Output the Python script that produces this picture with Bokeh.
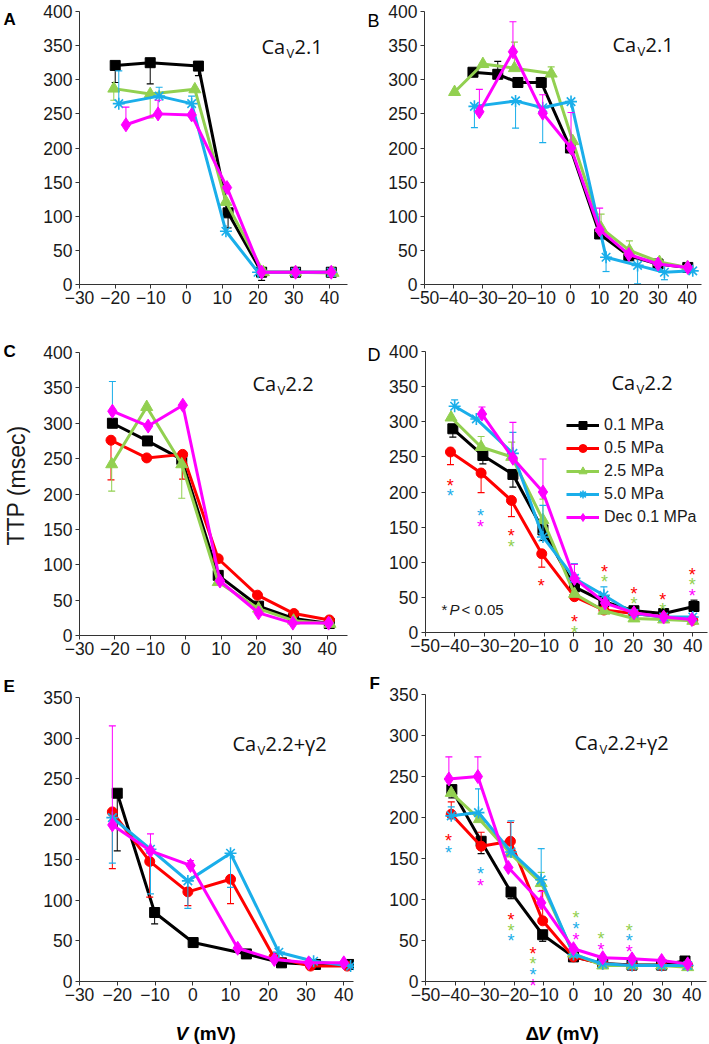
from bokeh.plotting import figure
from bokeh.layouts import column, row
from bokeh.models import Label, FixedTicker, Legend, LegendItem, ColumnDataSource, Range1d
from bokeh.core.properties import value
from bokeh.embed import file_html
from bokeh.resources import INLINE

# ------------------------------------------------------------------ data
legend_labels = ["0.1 MPa", "0.5 MPa", "2.5 MPa", "5.0 MPa", "Dec 0.1 MPa"]
yticks_400 = [0, 50, 100, 150, 200, 250, 300, 350, 400]
yticks_350 = [0, 50, 100, 150, 200, 250, 300, 350]
xticks_v = [-30, -20, -10, 0, 10, 20, 30, 40]
xlabels_v = ["\u221230", "\u221220", "\u221210", "0", "10", "20", "30", "40"]
xticks_dv = [-50, -40, -30, -20, -10, 0, 10, 20, 30, 40]
xlabels_dv = ["\u221250", "\u221240", "\u221230", "\u221220", "\u221210", "0", "10", "20", "30", "40"]

# Panel A  (CaV2.1, V)
A_black_x = [-20, -10.2, 3.3, 11.6, 21, 30.5, 40.5]
A_black_y = [321, 325, 320, 105, 18, 18, 18]
A_black_err = [-25, -31, -14, -22, -12, 0, 0]
A_green_x = [-20.4, -10.2, 2.3, 11, 21.5, 30.5, 41]
A_green_y = [287, 279, 286, 121, 18, 18, 17]
A_green_err = [-17, -35, 0, 0, 0, 0, 0]
A_blue_x = [-19, -7.7, 1.4, 11, 20, 30.5, 40.5]
A_blue_y = [265, 276, 265, 78, 18, 18, 18]
A_blue_err = [48, 13, 11, 0, 0, 0, 0]
A_magenta_x = [-17, -8, 1.4, 11.3, 21, 30.5, 40.5]
A_magenta_y = [234, 250, 248.5, 142, 18, 18, 18]
A_magenta_err = [26, 20, 0, 0, 0, 0, 0]

# Panel B  (CaV2.1, dV)
B_black_x = [-33.4, -24.9, -18, -10, 0, 10, 20, 30, 40.2]
B_black_y = [311, 308, 296, 296, 200, 74, 42, 30, 25]
B_black_err = [0, 19, 0, 0, 0, 0, 0, 0, 0]
B_green_x = [-39.7, -30, -19.2, -6.6, 0.8, 10.5, 20.2, 30.5, 40]
B_green_y = [282, 323, 317, 309, 210, 83, 50, 33, 25]
B_green_err = [0, 0, 38, 10, 0, 20, 14, 0, 0]
B_blue_x = [-32.9, -18.8, -9.5, 0.2, 12.2, 23, 32.2, 41.9]
B_blue_y = [261, 269, 259, 268, 40, 28, 18, 20]
B_blue_err = [-31, -40, -51, 0, -21, -27, -11, 0]
B_magenta_x = [-31.2, -19.7, -9.5, 0.2, 10, 20, 30, 40.2]
B_magenta_y = [253, 341, 251, 200, 80, 44, 30, 25]
B_magenta_err = [33, 44, 27, 52, 32, 0, 0, 0]

# Panel C  (CaV2.2, V)
C_black_x = [-20.7, -10.8, -1.1, 9.2, 20.6, 30.5, 40.6]
C_black_y = [300, 275, 249, 85, 41.5, 24, 17]
C_black_err = [0, 0, 0, 0, 0, 0, 0]
C_red_x = [-21.1, -11, -0.85, 9.2, 20.3, 30.6, 40.6]
C_red_y = [276, 251, 256, 108.5, 57, 31, 22]
C_red_err = [-56, 0, -35, 0, 0, 0, 0]
C_green_x = [-20.9, -11, -1.1, 9.2, 20.6, 30.5, 40.8]
C_green_y = [242, 323, 242, 75.5, 38, 21, 16.5]
C_green_err = [-38, 0, -48, 0, 0, 0, 0]
C_blue_x = [-20.7]
C_blue_y = [300]
C_blue_err = [59]
C_magenta_x = [-20.7, -10.6, -0.8, 9.7, 20.6, 30.3, 40.4]
C_magenta_y = [317, 296, 325.5, 77, 32, 17.5, 17.5]
C_magenta_err = [0, 0, 0, 0, 0, 0, 0]

# Panel D  (CaV2.2, dV)
D_black_x = [-40.7, -30.6, -20.5, -10.4, 0.2, 10.1, 20.2, 30.2, 40.4]
D_black_y = [290, 252, 225, 146, 65, 44, 31, 27, 37]
D_black_err = [-12, -12, -18, -15, 0, 0, 0, 0, 9]
D_red_x = [-41.5, -31.2, -21, -10.8, 0.2, 10.1, 20.2, 30.2, 40]
D_red_y = [257, 227, 188, 112, 51, 32, 27, 22, 17.5]
D_red_err = [-18, -28, -23, -19, 0, 0, 0, 0, 0]
D_green_x = [-41.3, -31.2, -20.9, -10.4, 0.2, 10.1, 20.2, 30.2, 40]
D_green_y = [306, 264, 250, 160, 55, 31, 20, 18.5, 16.6]
D_green_err = [0, 15, 21, 30, 0, 0, 0, 0, 0]
D_blue_x = [-40.1, -32.8, -20.5, -10.4, 0.2, 10.1, 20.2, 30.2, 40]
D_blue_y = [322, 304, 255, 136, 77, 53, 27, 22, 22]
D_blue_err = [9, 0, 30, 45, 21, 12, 0, 0, 0]
D_magenta_x = [-30.9, -20.5, -10.4, 0.2, 10.5, 20.2, 30.2, 39.7]
D_magenta_y = [311, 248, 200, 77, 42, 28, 22, 18.5]
D_magenta_err = [10, 51, 47, 20, 0, 0, 0, 0]
D_star_x = [-41.6, -21.1, -11, 0.2, 10.3, 20.2, 29.9, 39.8,
            -21.1, 0.2, 10.3, 20.2, 29.9, 39.8,
            -41.6, -31.4, -31.4, 39.8]
D_star_y = [223, 151, 81, 29, 101, 69, 61, 96,
            136, 14, 86, 55, 46, 82,
            208, 180, 165, 66]
D_star_s = ["red"] * 8 + ["green"] * 6 + ["blue"] * 2 + ["magenta"] * 2

# Panel E  (CaV2.2+g2, V)
E_black_x = [-20, -10.1, 0.1, 14.2, 23.5, 32.5, 41.3]
E_black_y = [232, 85, 48, 34, 23, 21, 21]
E_black_err = [-71, -14, 0, 0, 0, 0, 0]
E_red_x = [-21.3, -11.4, -1.3, 10, 21.5, 31.2, 40.9]
E_red_y = [209, 148, 110.5, 126, 30, 19, 19]
E_red_err = [-70, -44, -17, -30, 0, 0, 0]
E_blue_x = [-21.3, -11.2, -1.3, 10, 22.8, 32, 41.8]
E_blue_y = [202, 163, 124, 158, 36, 25, 19]
E_blue_err = [-56, -55, -34, -42, 0, 0, 0]
E_magenta_x = [-21.3, -11.2, -0.6, 11.9, 21.6, 30.7, 40]
E_magenta_y = [193, 161, 143, 41, 27, 23, 23]
E_magenta_err = [122, 21, 6, 0, 0, 0, 0]

# Panel F  (CaV2.2+g2, dV)
F_black_x = [-41.1, -31.2, -21.1, -10.4, 0, 9.9, 19.8, 29.8, 37.7]
F_black_y = [234, 171, 109, 57, 30, 22, 20, 20, 25]
F_black_err = [-10, -15, -8, -8, 0, 0, 0, 0, 0]
F_red_x = [-41.3, -31.2, -21.3, -10.4, 0, 9.9, 19.8, 29.8, 38.6]
F_red_y = [204, 165, 171, 74, 30, 21.5, 19.5, 19.5, 20]
F_red_err = [15, 17, 23, 37, 0, 0, 0, 0, 0]
F_green_x = [-41.3, -31.8, -21.3, -10.9, 0, 9.9, 19.8, 29.8, 38.6]
F_green_y = [230, 198, 156, 120, 34, 19.5, 19.5, 19.5, 17.5]
F_green_err = [0, 0, 0, 13, 0, 0, 0, 0, 0]
F_blue_x = [-41.3, -32.1, -21.1, -10.9, 0, 9.9, 19.8, 29.8, 38.6]
F_blue_y = [202, 206, 158, 124, 33, 21.5, 19.5, 19.5, 19.5]
F_blue_err = [11, 29, 38, 38, 0, 0, 0, 0, 0]
F_magenta_x = [-42.1, -32.3, -22, -10.9, 0, 9.9, 19.8, 29.8, 38.6]
F_magenta_y = [247, 250, 139, 96, 40, 29, 27.6, 25.6, 21.5]
F_magenta_err = [27, 24, 0, 14, 0, 0, 0, 0, 0]
F_star_x = [-42.2, -21.1, -13.7,
            -21.1, -13.7, 0.9, 9.3, 18.9,
            -42.2, -31.4, -21.1, -13.7, 0.9, 18.9,
            -31.4, -13.7, 0.9, 9.3, 18.9]
F_star_y = [183, 87, 46,
            74, 33, 90, 64, 74,
            169, 143, 61, 20, 76, 61,
            129, 7, 63, 51, 48]
F_star_s = ["red"] * 3 + ["green"] * 5 + ["blue"] * 6 + ["magenta"] * 5

# ------------------------------------------------------------------ styles / geometry
COL = {"black": "#000000", "red": "#FF0000", "green": "#92D050",
       "blue": "#1AAEEA", "magenta": "#FF00FF"}
MARK = {"black": ("square", 10), "red": ("circle", 10), "green": ("triangle", 12),
        "blue": ("asterisk", 12), "magenta": ("diamond", 14)}
ORDER = ["black", "red", "green", "blue", "magenta"]
TICK_FONT = "Liberation Sans"
AX_COL = "#333333"
TXT_COL = "#1a1a1a"

# canvas (page px), axis anchor pixels, axis extents
GEO = {
    "A": dict(px=0, py=0, w=354, h=318, xa=(-30, 79), xb=(40, 329), y0=284, ytop=(400, 11), xend=45),
    "B": dict(px=354, py=0, w=355, h=318, xa=(-50, 424), xb=(40, 686.7), y0=284, ytop=(400, 11), xend=45),
    "C": dict(px=0, py=318, w=354, h=350, xa=(-30, 79), xb=(40, 326.7), y0=635, ytop=(400, 352), xend=45.75),
    "D": dict(px=354, py=318, w=355, h=350, xa=(-50, 424.7), xb=(40, 692.3), y0=632, ytop=(400, 351), xend=45),
    "E": dict(px=0, py=668, w=354, h=376, xa=(-30, 79), xb=(40, 343.3), y0=981, ytop=(350, 697), xend=42.6),
    "F": dict(px=354, py=668, w=355, h=376, xa=(-50, 425), xb=(40, 691.3), y0=981, ytop=(350, 694), xend=45),
}


def scales(g):
    sx = (g["xb"][1] - g["xa"][1]) / (g["xb"][0] - g["xa"][0])
    sy = (g["y0"] - g["ytop"][1]) / g["ytop"][0]
    xs = g["xa"][0] - (g["xa"][1] - g["px"]) / sx
    ys = -(g["py"] + g["h"] - g["y0"]) / sy
    return sx, sy, xs, ys


def p2d(g, px, py):
    sx, sy, xs, ys = scales(g)
    return xs + (px - g["px"]) / sx, ys + (g["py"] + g["h"] - py) / sy


def txt(p, g, s, px, py, size, style="normal", font="Liberation Sans",
        align="left", baseline="alphabetic", angle=0.0, color=TXT_COL):
    x, y = p2d(g, px, py)
    p.add_layout(Label(x=x, y=y, text=s, text_font=font, text_font_size=f"{size}px",
                       text_font_style=style, text_color=color, text_align=align,
                       text_baseline=baseline, angle=angle))


def make_fig(key, xticks, xlabels, yticks):
    g = GEO[key]
    sx, sy, xs, ys = scales(g)
    p = figure(width=g["w"], height=g["h"],
               x_range=Range1d(xs, xs + g["w"] / sx), y_range=Range1d(ys, ys + g["h"] / sy),
               output_backend="svg", toolbar_location=None, min_border=0)
    p.outline_line_color = None
    p.grid.visible = False
    p.border_fill_color = "white"
    p.background_fill_color = "white"
    xa = p.xaxis[0]
    ya = p.yaxis[0]
    xa.ticker = FixedTicker(ticks=xticks)
    xa.major_label_overrides = {t: l for t, l in zip(xticks, xlabels)}
    xa.fixed_location = 0
    xa.bounds = (g["xa"][0], g["xend"])
    ya.ticker = FixedTicker(ticks=yticks)
    ya.fixed_location = g["xa"][0]
    ya.bounds = (0, g["ytop"][0])
    for ax in (xa, ya):
        ax.axis_line_color = AX_COL
        ax.axis_line_width = 1
        ax.major_tick_line_color = AX_COL
        ax.major_tick_out = 4
        ax.major_tick_in = 0
        ax.minor_tick_line_color = None
        ax.major_label_text_font = TICK_FONT
        ax.major_label_text_font_size = "17.5px"
        ax.major_label_text_color = TXT_COL
    xa.major_label_standoff = 2
    ya.major_label_standoff = 3
    return p, g


def draw_series(p, name, xs, ys, errs, show_line=True):
    c = COL[name]
    ex, ey0, ey1 = [], [], []
    for x, y, e in zip(xs, ys, errs):
        if e != 0:
            ex.append(x)
            ey0.append(y)
            ey1.append(y + e)
    if ex:
        p.segment(x0=ex, y0=ey0, x1=ex, y1=ey1, line_color=c, line_width=1)
        p.scatter(x=ex, y=ey1, marker="dash", size=7, line_color=c, line_width=1.2)
    if not show_line:
        return None
    lr = p.line(xs, ys, line_color=c, line_width=3)
    m, s = MARK[name]
    if m == "asterisk":
        sr = p.scatter(xs, ys, marker=m, size=s, line_color=c, line_width=1.6)
    else:
        sr = p.scatter(xs, ys, marker=m, size=s, fill_color=c, line_color=c, line_width=1)
    return [lr, sr]


def draw_stars(p, xs, ys, ss):
    src = ColumnDataSource(dict(x=xs, y=ys, t=["*"] * len(xs), c=[COL[s] for s in ss]))
    p.text(x="x", y="y", text="t", source=src, text_color="c",
           text_font=value("Liberation Sans"), text_font_size=value("18px"),
           text_align="center", text_baseline="middle", y_offset=10)


def ca_label(p, g, suffix, px, py):
    txt(p, g, "Ca", px, py, 20, font="Open Sans", color="#111111")
    txt(p, g, "V", px + 25, py + 6, 13, font="Open Sans", color="#111111")
    txt(p, g, suffix, px + 33, py, 20, font="Open Sans", color="#111111")


# ---- A
pA, gA = make_fig("A", xticks_v, xlabels_v, yticks_400)
draw_series(pA, "black", A_black_x, A_black_y, A_black_err)
draw_series(pA, "green", A_green_x, A_green_y, A_green_err)
draw_series(pA, "blue", A_blue_x, A_blue_y, A_blue_err)
draw_series(pA, "magenta", A_magenta_x, A_magenta_y, A_magenta_err)
ca_label(pA, gA, "2.1", 261, 46)
txt(pA, gA, "A", 3, 19, 17, style="bold", color="#000000")

# ---- B
pB, gB = make_fig("B", xticks_dv, xlabels_dv, yticks_400)
draw_series(pB, "black", B_black_x, B_black_y, B_black_err)
draw_series(pB, "green", B_green_x, B_green_y, B_green_err)
draw_series(pB, "blue", B_blue_x, B_blue_y, B_blue_err)
draw_series(pB, "magenta", B_magenta_x, B_magenta_y, B_magenta_err)
ca_label(pB, gB, "2.1", 612, 44)
txt(pB, gB, "B", 367, 20, 18, color="#000000")

# ---- C
pC, gC = make_fig("C", xticks_v, xlabels_v, yticks_400)
draw_series(pC, "blue", C_blue_x, C_blue_y, C_blue_err, show_line=False)
draw_series(pC, "black", C_black_x, C_black_y, C_black_err)
draw_series(pC, "red", C_red_x, C_red_y, C_red_err)
draw_series(pC, "green", C_green_x, C_green_y, C_green_err)
draw_series(pC, "magenta", C_magenta_x, C_magenta_y, C_magenta_err)
ca_label(pC, gC, "2.2", 252, 383)
txt(pC, gC, "C", 3, 351, 17, style="bold", color="#000000")
txt(pC, gC, "TTP (msec)", 16, 485, 23, align="center", baseline="middle", angle=1.5707963)

# ---- D
pD, gD = make_fig("D", xticks_dv, xlabels_dv, yticks_400)
rD = {}
rD["black"] = draw_series(pD, "black", D_black_x, D_black_y, D_black_err)
rD["red"] = draw_series(pD, "red", D_red_x, D_red_y, D_red_err)
rD["green"] = draw_series(pD, "green", D_green_x, D_green_y, D_green_err)
rD["blue"] = draw_series(pD, "blue", D_blue_x, D_blue_y, D_blue_err)
rD["magenta"] = draw_series(pD, "magenta", D_magenta_x, D_magenta_y, D_magenta_err)
draw_stars(pD, D_star_x, D_star_y, D_star_s)
ca_label(pD, gD, "2.2", 611, 382)
txt(pD, gD, "D", 367, 354, 18, color="#000000")
txt(pD, gD, "*", 441, 609, 15)
txt(pD, gD, "P", 449, 609, 15, style="italic")
txt(pD, gD, "< 0.05", 461, 609, 15)
legend = Legend(items=[LegendItem(label=lab, renderers=rD[k]) for lab, k in zip(legend_labels, ORDER)],
                location=(212, 141))
legend.glyph_width = 33
legend.glyph_height = 20
legend.label_height = 20
legend.label_standoff = 5
legend.spacing = 3
legend.padding = 0
legend.margin = 0
legend.border_line_color = None
legend.background_fill_alpha = 0
legend.label_text_font = "Liberation Sans"
legend.label_text_font_size = "16px"
legend.label_text_color = TXT_COL
pD.add_layout(legend)

# ---- E
pE, gE = make_fig("E", xticks_v, xlabels_v, yticks_350)
draw_series(pE, "black", E_black_x, E_black_y, E_black_err)
draw_series(pE, "red", E_red_x, E_red_y, E_red_err)
draw_series(pE, "blue", E_blue_x, E_blue_y, E_blue_err)
draw_series(pE, "magenta", E_magenta_x, E_magenta_y, E_magenta_err)
ca_label(pE, gE, "2.2+\u03b32", 232, 743)
txt(pE, gE, "E", 3, 686, 17, style="bold", color="#000000")
txt(pE, gE, "V", 175, 1033, 19, style="bold italic", color="#000000")
txt(pE, gE, "(mV)", 193, 1033, 19, style="bold", color="#000000")

# ---- F
pF, gF = make_fig("F", xticks_dv, xlabels_dv, yticks_350)
draw_series(pF, "black", F_black_x, F_black_y, F_black_err)
draw_series(pF, "red", F_red_x, F_red_y, F_red_err)
draw_series(pF, "green", F_green_x, F_green_y, F_green_err)
draw_series(pF, "blue", F_blue_x, F_blue_y, F_blue_err)
draw_series(pF, "magenta", F_magenta_x, F_magenta_y, F_magenta_err)
draw_stars(pF, F_star_x, F_star_y, F_star_s)
ca_label(pF, gF, "2.2+\u03b32", 574, 742)
txt(pF, gF, "F", 369, 683, 17, style="bold", color="#000000")
txt(pF, gF, "\u0394", 525, 1033, 19, style="bold", color="#000000")
txt(pF, gF, "V", 537, 1033, 19, style="bold italic", color="#000000")
txt(pF, gF, "(mV)", 556, 1033, 19, style="bold", color="#000000")

layout = column(row(pA, pB), row(pC, pD), row(pE, pF))
open("out.html", "w").write(file_html(layout, INLINE))
